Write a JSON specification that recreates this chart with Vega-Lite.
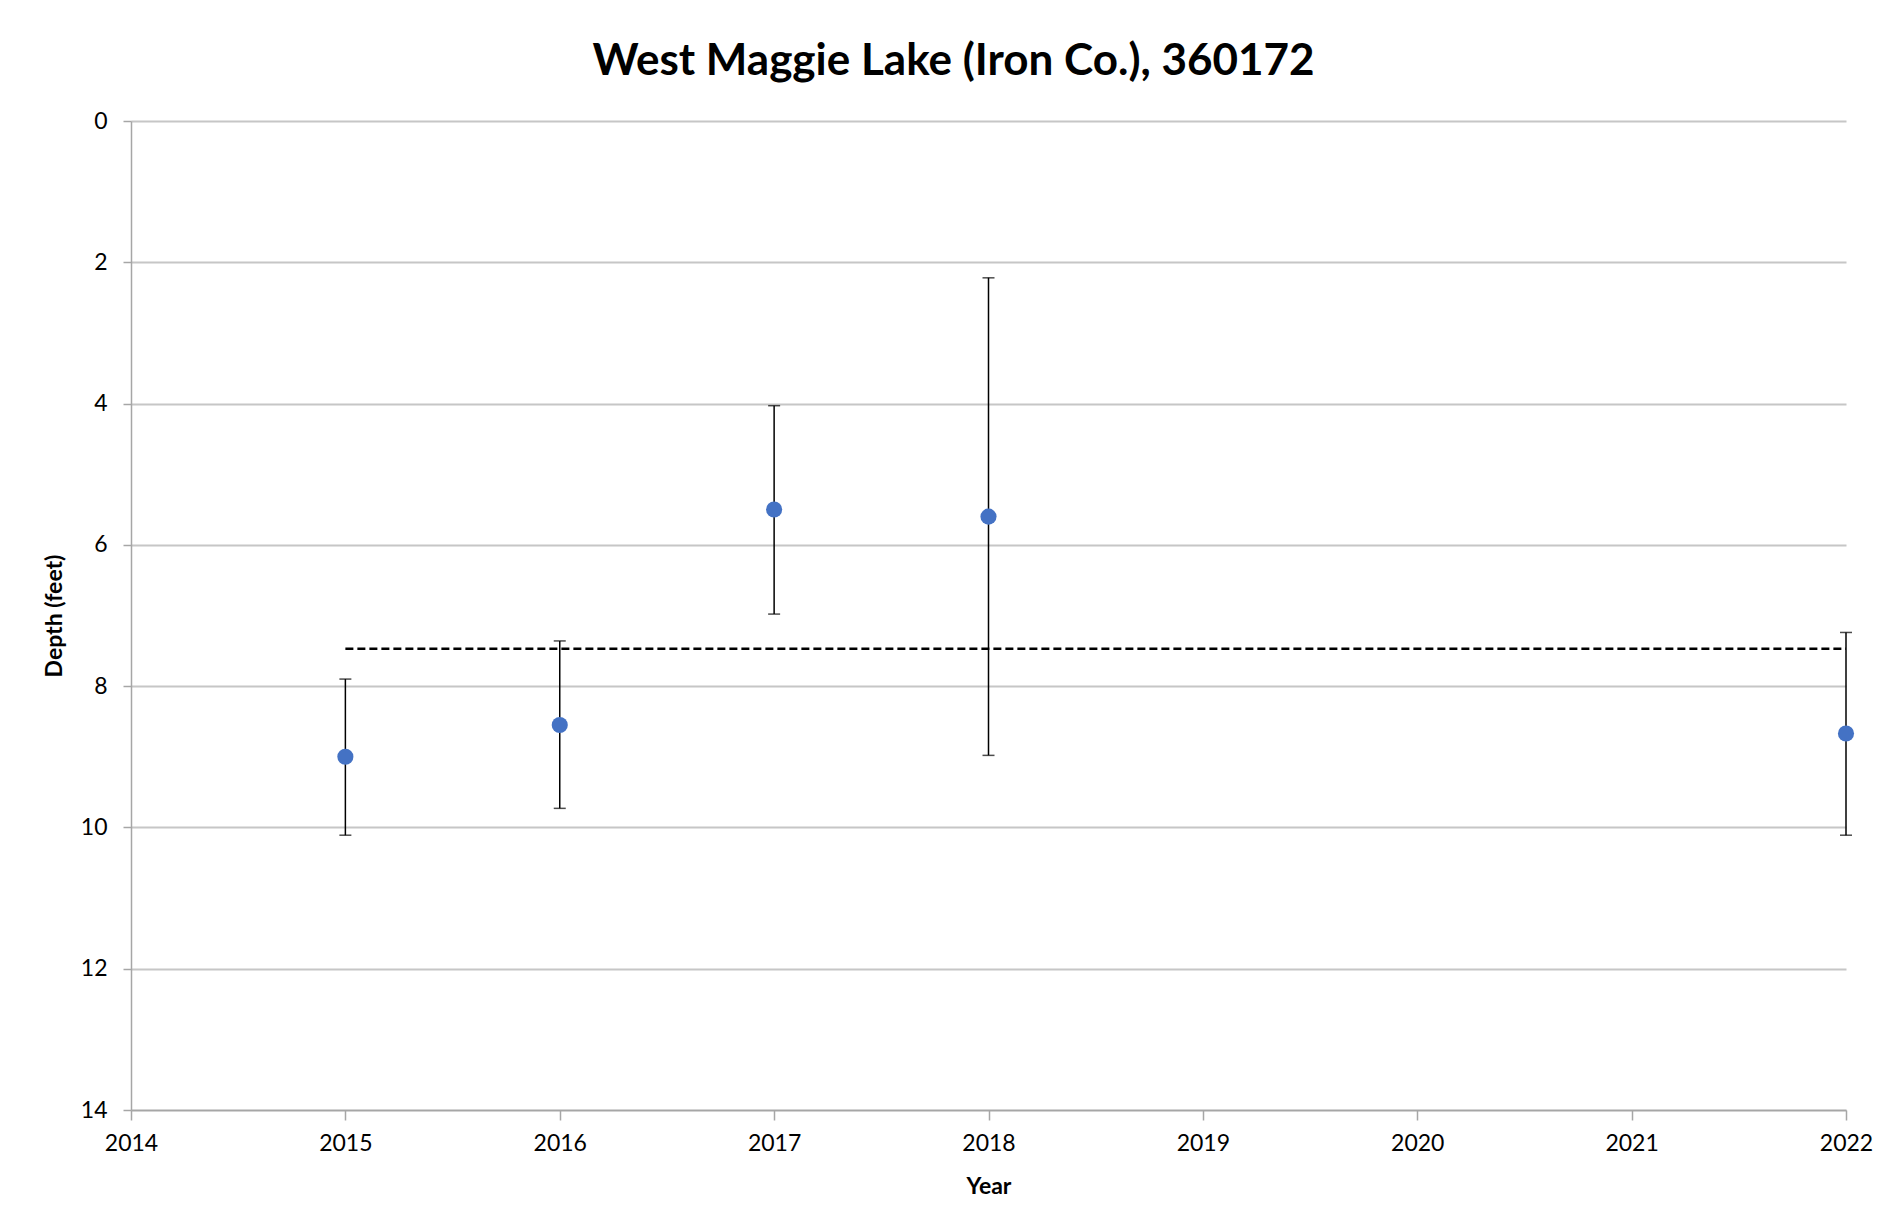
{
  "$schema": "https://vega.github.io/schema/vega-lite/v6.json",
  "autosize": "none",
  "width": 1715,
  "height": 989,
  "padding": {"left": 131, "top": 121, "right": 45, "bottom": 118},
  "background": "white",
  "title": {
    "text": "West Maggie Lake (Iron Co.), 360172",
    "font": "Lato",
    "fontSize": 44,
    "fontWeight": "bold",
    "color": "black",
    "anchor": "middle",
    "offset": 26,
    "dx": -35
  },
  "datasets": {
    "obs": [
      {"year": 2015, "depth": 9.0, "lo": 7.9, "hi": 10.11},
      {"year": 2016, "depth": 8.55, "lo": 7.36, "hi": 9.73},
      {"year": 2017, "depth": 5.5, "lo": 4.03, "hi": 6.98},
      {"year": 2018, "depth": 5.6, "lo": 2.22, "hi": 8.98},
      {"year": 2022, "depth": 8.67, "lo": 7.24, "hi": 10.11}
    ],
    "mean": [
      {"start": 2015, "end": 2022, "mean": 7.47}
    ]
  },
  "config": {
    "view": {"stroke": null},
    "axis": {
      "labelFont": "Lato",
      "labelFontSize": 23,
      "labelColor": "black",
      "labelFlush": false,
      "titleFont": "Lato",
      "titleFontSize": 23,
      "titleFontWeight": "bold",
      "titleColor": "black",
      "domainColor": "#a6a6a6",
      "domainWidth": 1.5,
      "tickColor": "#a6a6a6",
      "tickWidth": 1.5,
      "gridColor": "#c6c6c6",
      "gridWidth": 2
    }
  },
  "layer": [
    {
      "data": {"name": "obs"},
      "mark": {"type": "rule", "color": "black", "strokeWidth": 1.5},
      "encoding": {
        "x": {
          "field": "year",
          "type": "quantitative",
          "scale": {"domain": [2014, 2022], "nice": false, "zero": false},
          "axis": {
            "title": "Year",
            "format": "d",
            "values": [2014, 2015, 2016, 2017, 2018, 2019, 2020, 2021, 2022],
            "grid": false,
            "tickSize": 10,
            "labelPadding": 12,
            "titlePadding": 20
          }
        },
        "y": {
          "field": "lo",
          "type": "quantitative",
          "scale": {"domain": [0, 14], "reverse": true, "nice": false, "zero": false},
          "axis": {
            "title": "Depth (feet)",
            "format": "d",
            "values": [0, 2, 4, 6, 8, 10, 12, 14],
            "grid": true,
            "tickSize": 8,
            "labelPadding": 16,
            "titlePadding": 14
          }
        },
        "y2": {"field": "hi"}
      }
    },
    {
      "data": {"name": "obs"},
      "mark": {"type": "tick", "orient": "horizontal", "color": "black", "size": 12, "thickness": 1.5},
      "encoding": {
        "x": {"field": "year", "type": "quantitative"},
        "y": {"field": "lo", "type": "quantitative"}
      }
    },
    {
      "data": {"name": "obs"},
      "mark": {"type": "tick", "orient": "horizontal", "color": "black", "size": 12, "thickness": 1.5},
      "encoding": {
        "x": {"field": "year", "type": "quantitative"},
        "y": {"field": "hi", "type": "quantitative"}
      }
    },
    {
      "data": {"name": "mean"},
      "mark": {"type": "rule", "color": "black", "strokeWidth": 2.5, "strokeDash": [8, 4]},
      "encoding": {
        "x": {"field": "start", "type": "quantitative"},
        "x2": {"field": "end"},
        "y": {"field": "mean", "type": "quantitative"}
      }
    },
    {
      "data": {"name": "obs"},
      "mark": {"type": "point", "filled": true, "shape": "circle", "color": "#4472C4", "opacity": 1, "size": 260},
      "encoding": {
        "x": {"field": "year", "type": "quantitative"},
        "y": {"field": "depth", "type": "quantitative"}
      }
    }
  ]
}
